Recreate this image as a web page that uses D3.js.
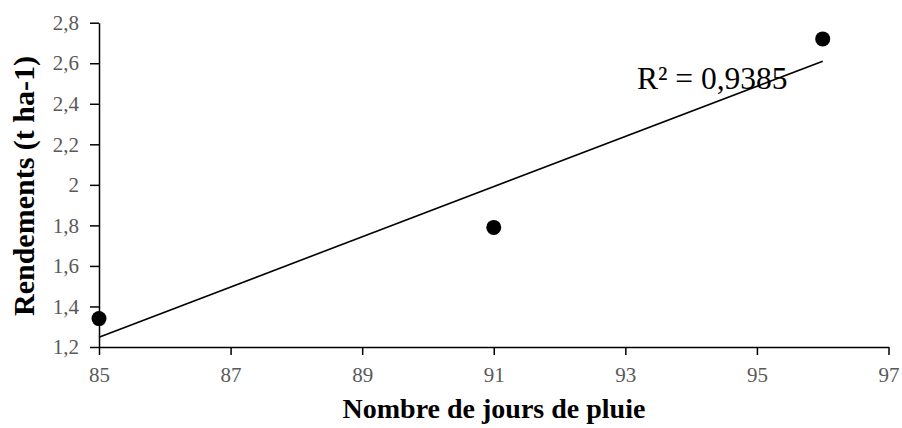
<!DOCTYPE html>
<html>
<head>
<meta charset="utf-8">
<script src="https://cdn.jsdelivr.net/npm/d3@7"></script>
<style>
  body { margin: 0; background: #fff; }
  svg { display: block; font-family: "Liberation Serif", "Times New Roman", serif; }
  .tick text { fill: #595959; font-size: 21px; font-family: "Liberation Serif", "Times New Roman", serif; }
  .axis path, .axis line { stroke: #000; stroke-width: 1.5; }
</style>
</head>
<body>
<svg id="chart" width="902" height="428"></svg>
<script>
"use strict";
// jours de pluie vs rendement
const days = [85, 91, 96];
const yields = [1.34, 1.79, 2.72];
const xTicks = [85, 87, 89, 91, 93, 95, 97];
const yTicks = [1.2, 1.4, 1.6, 1.8, 2, 2.2, 2.4, 2.6, 2.8];
const r2Label = "R² = 0,9385";

const svg = d3.select("#chart");
const x = d3.scaleLinear().domain([85, 97]).range([99, 888.5]);
const y = d3.scaleLinear().domain([1.2, 2.8]).range([347, 22.7]);
const comma = (v) => String(v).replace(".", ",");

svg.append("g").attr("class", "axis")
  .attr("transform", `translate(0,${y(1.2)})`)
  .call(d3.axisBottom(x).tickValues(xTicks).tickSize(8).tickSizeOuter(0).tickPadding(12).tickFormat(comma));

svg.append("g").attr("class", "axis")
  .attr("transform", `translate(${x(85)},0)`)
  .call(d3.axisLeft(y).tickValues(yTicks).tickSize(9).tickSizeOuter(0).tickPadding(11).tickFormat(comma));

// least-squares trendline over the data range
const mx = d3.mean(days), my = d3.mean(yields);
const sxy = d3.sum(days, (d, i) => (d - mx) * (yields[i] - my));
const sxx = d3.sum(days, (d) => (d - mx) ** 2);
const slope = sxy / sxx, icpt = my - slope * mx;
const ext = d3.extent(days);
svg.append("line")
  .attr("x1", x(ext[0])).attr("y1", y(icpt + slope * ext[0]))
  .attr("x2", x(ext[1])).attr("y2", y(icpt + slope * ext[1]))
  .attr("stroke", "#000").attr("stroke-width", 1.6);

svg.append("g").selectAll("circle")
  .data(days).join("circle")
  .attr("cx", (d) => x(d)).attr("cy", (d, i) => y(yields[i]))
  .attr("r", 7.5).attr("fill", "#000");

svg.append("text").attr("x", 637).attr("y", 89)
  .attr("font-size", 31.5).attr("fill", "#000").text(r2Label);

svg.append("text").attr("x", 494).attr("y", 418)
  .attr("text-anchor", "middle").attr("font-size", 28).attr("font-weight", "bold")
  .text("Nombre de jours de pluie");

svg.append("text")
  .attr("transform", "translate(34,186) rotate(-90)")
  .attr("text-anchor", "middle").attr("font-size", 30).attr("font-weight", "bold")
  .text("Rendements (t ha-1)");
</script>
</body>
</html>
